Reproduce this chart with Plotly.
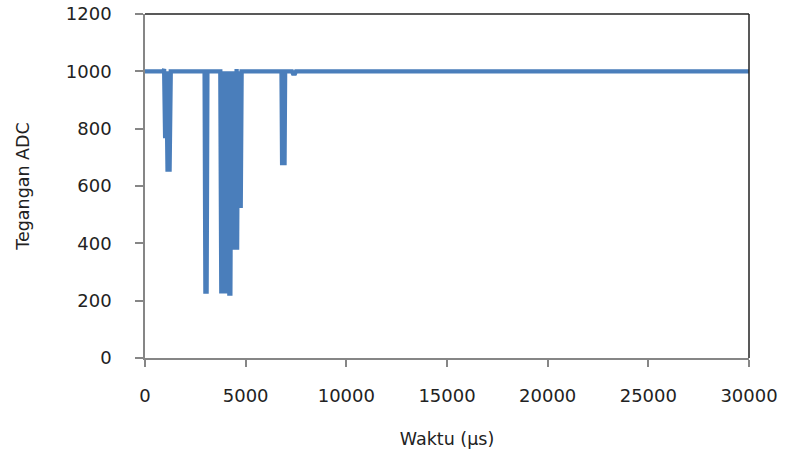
import plotly.graph_objects as go

# Time (µs) and ADC voltage readings
waktu = [0, 900, 950, 1000, 1060, 1120, 1170, 1220, 1280,
         2960, 3000, 3060, 3100,
         3740, 3790, 3830, 3870, 3910, 3950, 3990, 4030, 4070, 4110, 4150, 4190, 4240,
         4290, 4340, 4380, 4420, 4460, 4500, 4550, 4575, 4620, 4660, 4700, 4755, 4800,
         6780, 6810, 6840, 6870, 6900, 6930, 6960,
         7300, 7350, 7450, 7500, 30000]
tegangan = [1000, 1000, 1008, 767, 1000, 650, 1000, 650, 1000,
            1000, 232, 232, 1000,
            1000, 225, 1000, 225, 1000, 225, 1000, 225, 1000, 225, 1000, 225, 225,
            1000, 378, 1000, 378, 1000, 378, 1008, 378, 1000, 523, 1000, 523, 1000,
            1000, 672, 1000, 672, 1000, 672, 1000,
            1000, 992, 992, 1000, 1000]

x_ticks = [0, 5000, 10000, 15000, 20000, 25000, 30000]
x_labels = ["0", "5000", "10000", "15000", "20000", "25000", "30000"]
y_ticks = [0, 200, 400, 600, 800, 1000, 1200]
y_labels = ["0", "200", "400", "600", "800", "1000", "1200"]

fig = go.Figure()
fig.add_trace(go.Scatter(x=waktu, y=tegangan, mode="lines",
                         line=dict(color="#4A7EBB", width=4.3, simplify=False),
                         showlegend=False))

tick_font = dict(family="DejaVu Sans", size=18, color="#222222")
title_font = dict(family="DejaVu Sans", size=17.5, color="#222222")

fig.update_layout(
    width=787, height=455,
    margin=dict(l=145, r=38, t=14, b=97),
    paper_bgcolor="white", plot_bgcolor="white",
    xaxis=dict(range=[0, 30000], tickvals=x_ticks, ticktext=x_labels,
               ticks="outside", ticklen=7, automargin=False,
               ticklabeloverflow="allow",
               tickcolor="#868686", tickwidth=1.5, showgrid=False, zeroline=False,
               showline=True, linecolor="#868686", linewidth=1.5,
               tickfont=tick_font, ticklabelstandoff=14,
               title=dict(text="Waktu (µs)", font=title_font, standoff=27)),
    yaxis=dict(range=[0, 1200], tickvals=y_ticks, ticktext=y_labels,
               ticks="outside", ticklen=8, automargin=False,
               ticklabeloverflow="allow",
               tickcolor="#868686", tickwidth=1.5, showgrid=False, zeroline=False,
               showline=True, linecolor="#868686", linewidth=1.5,
               tickfont=tick_font, ticklabelstandoff=20,
               title=dict(text="Tegangan ADC", font=title_font, standoff=32)),
    shapes=[
        dict(type="line", xref="paper", yref="paper", x0=0, x1=1, y0=1, y1=1,
             line=dict(color="#222222", width=1.5)),
        dict(type="line", xref="paper", yref="paper", x0=1, x1=1, y0=0, y1=1,
             line=dict(color="#222222", width=1.5)),
    ],
)

fig.write_html("out.html",
               config={"displayModeBar": False},
               post_script="document.body.style.margin='0';document.body.style.overflow='hidden';")
